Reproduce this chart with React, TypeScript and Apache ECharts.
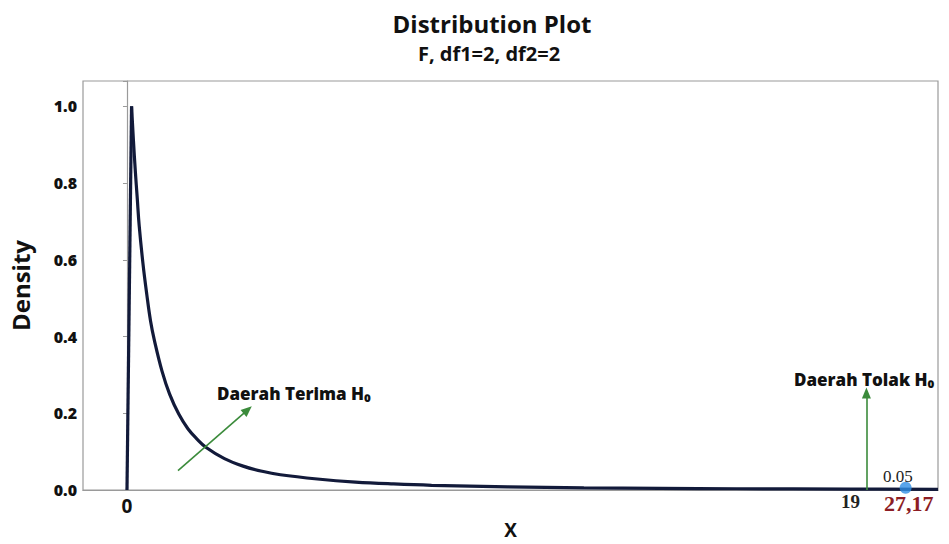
import React, { useEffect, useRef } from "react";
import * as echarts from "echarts";

// Density curve of F(2,2)
const curveX = [0.12, 0.17, 0.22, 0.27, 0.32, 0.42, 0.52, 0.62, 0.72, 0.92, 1.12, 1.36, 1.6, 1.84, 2.08, 2.56, 3.05, 3.55, 4.03, 5, 6, 7, 8, 10, 12, 14, 16, 19, 21.3];
const curveY = [1.0, 0.91, 0.83, 0.76, 0.69, 0.59, 0.51, 0.44, 0.39, 0.31, 0.25, 0.198, 0.16, 0.133, 0.111, 0.082, 0.0625, 0.049, 0.04, 0.029, 0.021, 0.016, 0.0125, 0.0085, 0.006, 0.0045, 0.0035, 0.0025, 0.002];
// vertical rise at x = 0
const spikeX = [0, 0.12];
const spikeY = [0, 1.0];

const yTicks = [0, 0.2, 0.4, 0.6, 0.8, 1.0];
const criticalValue = 19;
const tailArea = "0.05";
const statLabel = "27,17";
const statMarkX = 20.45; // where the statistic dot is drawn in the picture
const statMarkY = 0.006;

const titleText = "Distribution Plot";
const subtitleText = "F, df1=2, df2=2";
const acceptText = "Daerah Terima H₀";
const rejectText = "Daerah Tolak H₀";

export default function App() {
  const ref = useRef<HTMLDivElement>(null);
  useEffect(() => {
    if (!ref.current) return;
    const chart = echarts.init(ref.current, null, { renderer: "svg" });
    const sans = "'Open Sans', 'Noto Sans', sans-serif";
    const serif = "'Liberation Serif', 'DejaVu Serif', serif";
    const green = "#3b8b3b";
    const option: any = {
      animation: false,
      backgroundColor: "#ffffff",
      title: [
        {
          text: titleText,
          left: 487,
          top: 6,
          textAlign: "center",
          textStyle: { fontFamily: sans, fontWeight: "bold", fontSize: 24, color: "#111" },
        },
        {
          text: subtitleText,
          left: 484,
          top: 38,
          textAlign: "center",
          textStyle: { fontFamily: sans, fontWeight: "bold", fontSize: 20, color: "#111" },
        },
      ],
      grid: {
        left: 83,
        right: 11,
        top: 81,
        bottom: 45,
        show: true,
        borderColor: "#9a9a9a",
        borderWidth: 1.2,
        backgroundColor: "transparent",
      },
      xAxis: {
        type: "value",
        min: -1.155,
        max: 21.3,
        name: "X",
        nameLocation: "middle",
        nameGap: 25,
        nameTextStyle: { fontFamily: sans, fontWeight: "bold", fontSize: 19, color: "#111" },
        axisLine: { show: true, lineStyle: { color: "#9a9a9a", width: 1.2 } },
        axisTick: { show: false },
        splitLine: { show: false },
        axisLabel: {
          customValues: [0, criticalValue, statMarkX],
          margin: 2,
          formatter: (v: number) => {
            if (Math.abs(v) < 1e-6) return "{a|0}";
            if (Math.abs(v - criticalValue) < 1e-6) return "{b|" + criticalValue + "}";
            return "{c|" + statLabel + "}";
          },
          rich: {
            a: { fontFamily: sans, fontWeight: "bold", fontSize: 19, lineHeight: 19, color: "#111", padding: [8, 0, 0, 0] },
            b: { fontFamily: serif, fontWeight: "bold", fontSize: 19, lineHeight: 19, color: "#222", padding: [0, 0, 0, 0] },
            c: { fontFamily: serif, fontWeight: "bold", fontSize: 22, lineHeight: 22, color: "#8c1d24", padding: [1, 0, 0, 6] },
          },
        },
      },
      yAxis: {
        type: "value",
        min: 0,
        max: 1.066,
        interval: 0.2,
        name: "Density",
        nameLocation: "middle",
        nameGap: 51,
        nameTextStyle: { fontFamily: sans, fontWeight: "bold", fontSize: 24, color: "#111" },
        axisLine: { show: true, lineStyle: { color: "#9a9a9a", width: 1.2 } },
        axisTick: { show: true, length: 4, lineStyle: { color: "#9a9a9a" } },
        splitLine: { show: false },
        axisLabel: {
          margin: 6,
          fontFamily: sans,
          fontWeight: 800,
          fontSize: 16,
          color: "#111",
          formatter: (v: number) => (yTicks.some((t) => Math.abs(t - v) < 1e-6) ? v.toFixed(1) : ""),
        },
      },
      series: [
        {
          type: "line",
          data: spikeX.map((x, i) => [x, spikeY[i]]),
          showSymbol: false,
          lineStyle: { color: "#121a3a", width: 3.2 },
          z: 3,
        },
        {
          type: "line",
          data: curveX.map((x, i) => [x, curveY[i]]),
          showSymbol: false,
          smooth: 0.4,
          lineStyle: { color: "#121a3a", width: 3.2 },
          z: 3,
          markLine: {
            silent: true,
            symbol: ["none", "triangle"],
            symbolSize: [9, 11],
            label: { show: false },
            lineStyle: { color: green, width: 1.6, type: "solid" },
            data: [
              [{ coord: [1.34, 0.051] }, { coord: [3.17, 0.209] }],
              [{ coord: [19.42, 0.0] }, { coord: [19.42, 0.253] }],
            ],
          },
        },
        {
          type: "scatter",
          data: [[statMarkX, statMarkY]],
          symbolSize: 12,
          itemStyle: { color: "#2f8fe6" },
          z: 5,
        },
      ],
      graphic: [
        {
          type: "text",
          left: 217,
          top: 385,
          style: {
            text: acceptText,
            fontFamily: sans,
            fontWeight: 800,
            fontSize: 17,
            fill: "#111",
          },
        },
        {
          type: "text",
          left: 794,
          top: 371,
          style: {
            text: rejectText,
            fontFamily: sans,
            fontWeight: 800,
            fontSize: 17,
            fill: "#111",
          },
        },
        {
          type: "text",
          left: 883,
          top: 468,
          style: { text: tailArea, fontFamily: serif, fontSize: 17, fill: "#222" },
        },
      ],
    };
    chart.setOption(option);
    return () => chart.dispose();
  }, []);
  return <div ref={ref} style={{ position: "fixed", left: 0, top: 0, width: 949, height: 544 }} />;
}
